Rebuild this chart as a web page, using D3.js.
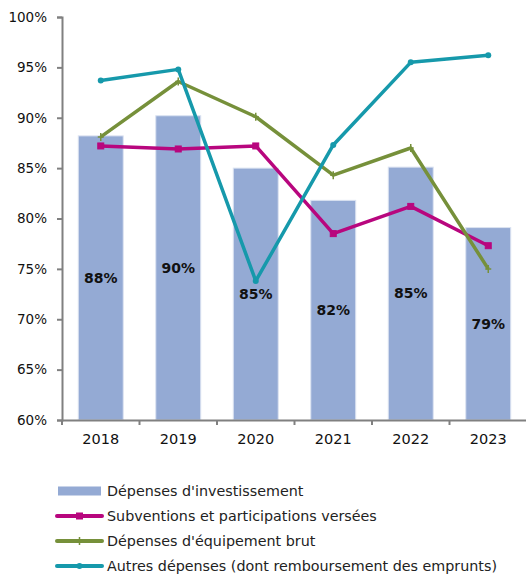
<!DOCTYPE html>
<html>
<head>
<meta charset="utf-8">
<script src="https://cdn.jsdelivr.net/npm/d3@7"></script>
<style>
  body { margin: 0; background: #fff; }
  svg { display: block; font-family: "DejaVu Sans", sans-serif; }
</style>
</head>
<body>
<div id="chart"></div>
<script>
var width = 526,
    height = 577;

// data
var years = ["2018", "2019", "2020", "2021", "2022", "2023"];
var investissement = [88.2, 90.2, 85.0, 81.8, 85.1, 79.1];
var investLabels = ["88%", "90%", "85%", "82%", "85%", "79%"];
var subventions = [87.2, 86.9, 87.2, 78.5, 81.2, 77.3];
var equipement = [88.1, 93.6, 90.1, 84.3, 87.0, 75.0];
var autres = [93.7, 94.8, 73.8, 87.3, 95.5, 96.2];
var yTicks = [60, 65, 70, 75, 80, 85, 90, 95, 100];

var seriesNames = [
  "Dépenses d'investissement",
  "Subventions et participations versées",
  "Dépenses d'équipement brut",
  "Autres dépenses (dont remboursement des emprunts)"
];

var barColor = "#94aad4";
var lines = [
  { values: subventions, color: "#b8067e", marker: "square" },
  { values: equipement, color: "#76903a", marker: "plus" },
  { values: autres, color: "#1699ab", marker: "circle" }
];

var svg = d3.select("#chart")
  .append("svg")
    .attr("width", width)
    .attr("height", height);

var mLeft = 62, mRight = 527, mTop = 17, mBottom = 420;

var x = d3.scaleBand()
  .domain(years)
  .range([mLeft, mRight])
  .paddingInner(0.42)
  .paddingOuter(0.21);

var xc = function(d) { return x(d) + x.bandwidth() / 2; };

var y = d3.scaleLinear()
  .domain([60, 100])
  .range([mBottom, mTop]);

// bars
svg.selectAll(".bar")
  .data(investissement)
  .enter()
  .append("rect")
    .attr("class", "bar")
    .attr("x", function(d, i) { return x(years[i]); })
    .attr("y", function(d) { return y(d); })
    .attr("width", x.bandwidth())
    .attr("height", function(d) { return y(60) - y(d); })
    .attr("fill", barColor)
    .attr("stroke", "#dbe3f1")
    .attr("stroke-width", 1);

// bar labels, in the middle of each bar
svg.selectAll(".barlabel")
  .data(investissement)
  .enter()
  .append("text")
    .attr("x", function(d, i) { return xc(years[i]); })
    .attr("y", function(d) { return (y(d) + y(60)) / 2; })
    .attr("dy", "0.35em")
    .attr("text-anchor", "middle")
    .style("font-size", "14px")
    .style("font-weight", "bold")
    .attr("fill", "#111")
    .text(function(d, i) { return investLabels[i]; });

// axes
var yAxis = svg.append("g")
  .attr("transform", "translate(" + mLeft + ",0)")
  .call(d3.axisLeft(y).tickValues(yTicks).tickSize(5).tickPadding(10)
    .tickFormat(function(d) { return d + "%"; }));

var xAxis = svg.append("g")
  .attr("transform", "translate(0," + mBottom + ")")
  .call(d3.axisBottom(x).tickSize(0).tickPadding(14));

[yAxis, xAxis].forEach(function(g) {
  g.select(".domain").attr("stroke", "#808080").attr("stroke-width", 2);
  g.selectAll(".tick line").attr("stroke", "#808080").attr("stroke-width", 2);
  g.selectAll("text").attr("fill", "#111")
    .style("font-family", "DejaVu Sans, sans-serif");
});
yAxis.selectAll("text").style("font-size", "13.5px");
xAxis.selectAll("text").style("font-size", "14.5px");

// x ticks at band boundaries
svg.selectAll(".xtick")
  .data(years)
  .enter()
  .append("line")
    .attr("x1", function(d) { return x(d) - x.step() * x.paddingInner() / 2; })
    .attr("x2", function(d) { return x(d) - x.step() * x.paddingInner() / 2; })
    .attr("y1", mBottom)
    .attr("y2", mBottom + 5)
    .attr("stroke", "#808080")
    .attr("stroke-width", 2);

// lines
var line = d3.line()
  .x(function(d, i) { return xc(years[i]); })
  .y(function(d) { return y(d); });

function drawMarker(g, type, color, cx, cy) {
  if (type == "square") {
    g.append("rect").attr("x", cx - 3).attr("y", cy - 3).attr("width", 6).attr("height", 6)
      .attr("fill", color).attr("stroke", color);
  } else if (type == "plus") {
    g.append("path").attr("d", "M" + (cx - 3) + "," + cy + "H" + (cx + 3) + "M" + cx + "," + (cy - 4) + "V" + (cy + 4))
      .attr("stroke", color).attr("stroke-width", 1.5);
  } else {
    g.append("circle").attr("cx", cx).attr("cy", cy).attr("r", 3).attr("fill", color);
  }
}

lines.forEach(function(s) {
  svg.append("path")
    .datum(s.values)
    .attr("d", line)
    .attr("fill", "none")
    .attr("stroke", s.color)
    .attr("stroke-width", 3.5)
    .attr("stroke-linejoin", "round");
  var g = svg.append("g");
  s.values.forEach(function(v, i) {
    drawMarker(g, s.marker, s.color, xc(years[i]), y(v));
  });
});

// legend
var legend = svg.append("g").attr("transform", "translate(57,491)");
seriesNames.forEach(function(name, i) {
  var row = legend.append("g").attr("transform", "translate(0," + (i * 25) + ")");
  if (i == 0) {
    row.append("rect").attr("x", 1).attr("y", -4.5).attr("width", 43).attr("height", 9).attr("fill", barColor);
  } else {
    var s = lines[i - 1];
    row.append("line").attr("x1", 0).attr("x2", 45).attr("y1", 0).attr("y2", 0)
      .attr("stroke", s.color).attr("stroke-width", 4).attr("stroke-linecap", "round");
    drawMarker(row, s.marker, s.color, 22.5, 0);
  }
  row.append("text")
    .attr("x", 50)
    .attr("dy", "0.35em")
    .style("font-size", "14.3px")
    .attr("fill", "#222")
    .text(name);
});
</script>
</body>
</html>
